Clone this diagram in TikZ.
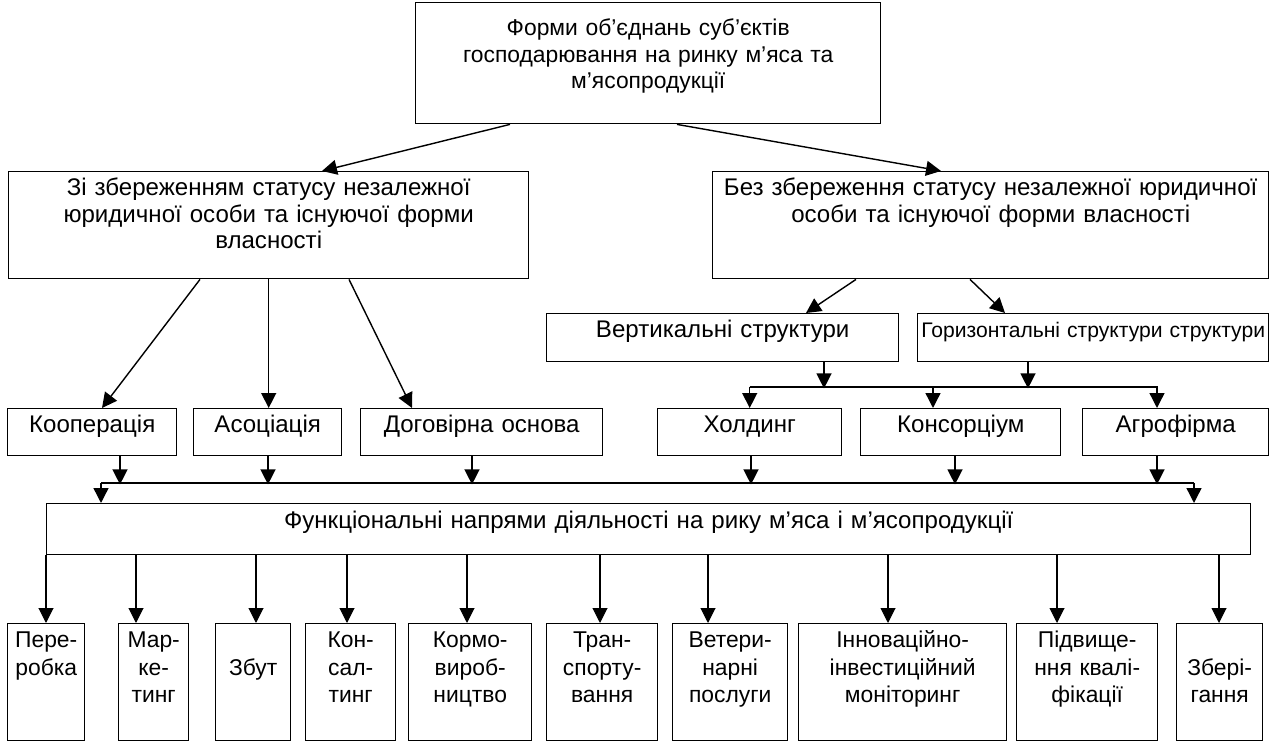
\documentclass[tikz,border=0pt]{standalone}
\usepackage{fontspec}
\setmainfont{Liberation Sans}
\usetikzlibrary{arrows.meta,calc}

\begin{document}
\begin{tikzpicture}[x=0.2mm, y=-0.2mm,
  box/.style={draw, line width=0.8pt, anchor=north west, inner sep=0pt, align=center,
              font=\fontsize{13.7}{15}\selectfont},
  upper/.style={box, text height=4.8mm, text depth=16.6mm},
  mid/.style={box, text height=4.8mm, text depth=4.6mm},
  low/.style={box, text height=4.8mm, text depth=18.6mm, font=\fontsize{13}{15.6}\selectfont},
  arr/.style={-{Triangle[length=8.5pt,width=8.5pt]}, line width=0.8pt},
  thinarr/.style={arr, line width=0.6pt},
  brk/.style={line width=1pt}]
\useasboundingbox (0,0) rectangle (1271,742);

%%最上段の箱
\node[box, text width=93mm, text height=6.6mm, text depth=17.6mm,
      font=\fontsize{13}{15}\selectfont] (T) at (415,2)
  {Форми об’єднань суб’єктів\\господарювання на ринку м’яса та\\м’ясопродукції};

%%第2段: 左右の箱
\node[upper, text width=104mm] (L1) at (8,171)
  {Зі збереженням статусу незалежної\\юридичної особи та існуючої форми\\власності};
\node[upper, text width=111.2mm] (R1) at (712,171)
  {Без збереження статусу незалежної юридичної\\особи та існуючої форми власності};
\draw[arr] ($(T.south west)+(95,0)$) -- ($(L1.north west)+(314,0)$);
\draw[arr] ($(T.south west)+(262,0)$) -- ($(R1.north west)+(229,0)$);
   %上の箱から左右へ"斜めの矢印"

%%縦・横の構造
\node[box, text width=70.4mm, text height=4.8mm, text depth=4.8mm] (V) at (546,313)
  {Вертикальні структури};
\node[box, text width=70.2mm, text height=4.8mm, text depth=4.8mm,
      font=\fontsize{12}{14}\selectfont] (H) at (917,313)
  {Горизонтальні структури структури};
\draw[arr] ($(R1.south west)+(144,0)$) -- ($(V.north west)+(260,0)$);
\draw[arr] ($(R1.south west)+(258,0)$) -- ($(H.north west)+(88,0)$);

%%中段の6つの箱
\foreach \n/\x/\ww/\txt in {K1/7/33.8/Кооперація, K2/193/29.6/Асоціація,
    K3/360/48.4/Договірна основа, K4/657/36.8/Холдинг,
    K5/860/40/Консорціум, K6/1082/37.2/Агрофірма}
  \node[mid, text width=\ww mm] (\n) at (\x,408) {\txt};
\draw[arr] ($(L1.south west)+(192,0)$) -- ($(K1.north west)+(95,0)$);
\draw[arr] (L1.south) -- (L1.south |- K2.north);
\draw[arr] ($(L1.south west)+(341,0)$) -- ($(K3.north west)+(52,0)$);

\coordinate (vb) at ($(K4.north)+(0,-21)$);
\draw[brk] (vb) -- ++(408,0);
   %右側の"分岐線"
\draw[arr] ($(V.south west)+(278,0)$) -- ++(0,26);
\draw[arr] ($(H.south west)+(111,0)$) -- ++(0,26);
\draw[arr] (vb) -- (K4.north);
\draw[arr] ($(K5.north west)+(73,-21)$) -- ++(0,21);
\draw[arr] ($(K6.north west)+(75,-21)$) -- ++(0,21);

%%機能の箱と集合線
\node[box, text width=240.8mm, text height=5mm, text depth=5.2mm] (F) at (46,503)
  {Функціональні напрями діяльності на рику м’яса і м’ясопродукції};
\coordinate (fl) at ($(F.north west)+(55,-20)$);
\coordinate (fr) at ($(F.north west)+(1148,-20)$);
\draw[brk] (fl) -- (fr);
\draw[arr] (fl) -- ++(0,20);
\draw[arr] (fr) -- ++(0,20);
\foreach \n/\dx in {K1/113, K2/75, K3/112, K4/94, K5/95, K6/75}
  \draw[arr] ($(\n.south west)+(\dx,0)$) -- ++(0,28);

%%最下段の10個の箱
\foreach \n/\x/\ww/\txt in {B1/7/15.4/{Пере-\\робка}, B2/118/14/{Мар-\\ке-\\тинг},
    B3/215/15/{\mbox{}\\Збут}, B4/305/18/{Кон-\\сал-\\тинг},
    B5/408/24.6/{Кормо-\\вироб-\\ництво}, B6/546/22.2/{Тран-\\спорту-\\вання},
    B7/672/23/{Ветери-\\нарні\\послуги},
    B8/798/41.6/{Інноваційно-\\інвестиційний\\моніторинг},
    B9/1016/28.2/{Підвище-\\ння квалі-\\фікації}, B10/1176/17.2/{\mbox{}\\Збері-\\гання}}
  \node[low, text width=\ww mm] (\n) at (\x,623) {\txt};
\foreach \n/\dx in {B1/39, B2/18, B3/41, B4/42, B5/59, B6/54, B7/36, B8/90, B9/41, B10/43}{
  \coordinate (p) at ($(\n.north west)+(\dx,0)$);
  \draw[thinarr] (p |- F.south) -- (p);
}
\end{tikzpicture}
\end{document}
